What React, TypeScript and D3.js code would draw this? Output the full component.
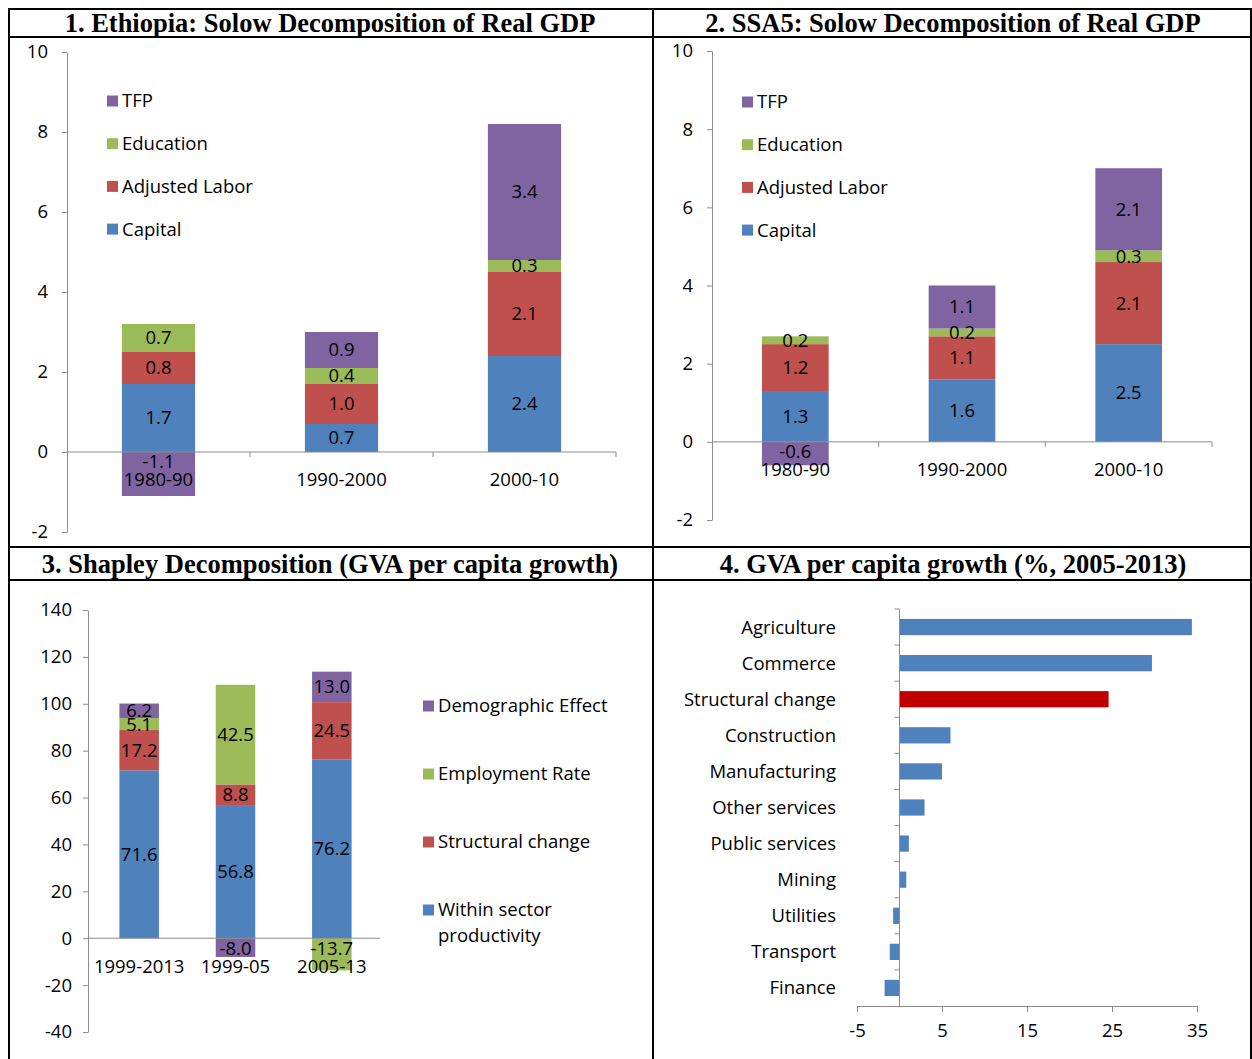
import { useEffect, useRef } from "react";
import * as d3 from "d3";

// Panels 1 and 2: Solow decomposition
const solowPeriods = ["1980-90", "1990-2000", "2000-10"];
const solowSeries = ["Capital", "Adjusted Labor", "Education", "TFP"];
const ethCapital = [1.7, 0.7, 2.4];
const ethLabor = [0.8, 1.0, 2.1];
const ethEducation = [0.7, 0.4, 0.3];
const ethTfp = [-1.1, 0.9, 3.4];
const ssaCapital = [1.3, 1.6, 2.5];
const ssaLabor = [1.2, 1.1, 2.1];
const ssaEducation = [0.2, 0.2, 0.3];
const ssaTfp = [-0.6, 1.1, 2.1];
const solowTicks = [-2, 0, 2, 4, 6, 8, 10];

// Panel 3: Shapley decomposition
const shapleyPeriods = ["1999-2013", "1999-05", "2005-13"];
const shapleySeries = [
  "Within sector productivity",
  "Structural change",
  "Employment Rate",
  "Demographic Effect",
];
const withinSector = [71.6, 56.8, 76.2];
const structuralChange = [17.2, 8.8, 24.5];
const employmentRate = [5.1, 42.5, -13.7];
const demographicEffect = [6.2, -8.0, 13.0];
const shapleyTicks = [-40, -20, 0, 20, 40, 60, 80, 100, 120, 140];

// Panel 4: GVA per capita growth by sector
const sectors = [
  "Agriculture",
  "Commerce",
  "Structural change",
  "Construction",
  "Manufacturing",
  "Other services",
  "Public services",
  "Mining",
  "Utilities",
  "Transport",
  "Finance",
];
const sectorGrowth = [34.4, 29.7, 24.6, 6.0, 5.0, 2.95, 1.1, 0.8, -0.75, -1.15, -1.75];
const growthTicks = [-5, 5, 15, 25, 35];

const COLORS = ["#4F81BD", "#C0504D", "#9BBB59", "#8064A2"];
const HIGHLIGHT = "#C00000";
const AXIS = "#8C8C8C";
const FONT = "'Open Sans', sans-serif";
const FS = 18.5;
const TITLE_FONT = "'Liberation Serif', 'Times New Roman', serif";

type Sel = d3.Selection<SVGGElement, unknown, null, undefined>;

interface StackOpts {
  categories: string[];
  keys: string[];
  columns: number[][]; // one array per series
  xRange: [number, number];
  padding: number;
  yDomain: [number, number];
  yRange: [number, number];
  yTicks: number[];
  axisX: number;
  axisEnd: number;
  tickPad: number;
  catTicks: boolean;
  catLabelDy: number;
  legendX: number;
  legendY: number;
  legendStep: number;
}

function drawStack(g: Sel, o: StackOpts) {
  const rows = o.categories.map((c, i) => {
    const r: Record<string, number | string> = { cat: c };
    o.keys.forEach((k, j) => (r[k] = o.columns[j][i]));
    return r;
  });
  const stacked = d3
    .stack<Record<string, number | string>>()
    .keys(o.keys)
    .value((d, k) => d[k] as number)
    .offset(d3.stackOffsetDiverging)(rows);

  const x = d3
    .scaleBand()
    .domain(o.categories)
    .range(o.xRange)
    .paddingInner(o.padding)
    .paddingOuter(o.padding / 2);
  const y = d3.scaleLinear().domain(o.yDomain).range(o.yRange);

  // bars
  stacked.forEach((s, j) => {
    g.append("g")
      .selectAll("rect")
      .data(s)
      .join("rect")
      .attr("x", (d) => x(d.data.cat as string)!)
      .attr("width", x.bandwidth())
      .attr("y", (d) => y(Math.max(d[0], d[1])))
      .attr("height", (d) => Math.abs(y(d[0]) - y(d[1])))
      .attr("fill", COLORS[j]);
  });

  // value axis
  const yAxis = g
    .append("g")
    .attr("transform", `translate(${o.axisX},0)`)
    .call(
      d3
        .axisLeft(y)
        .tickValues(o.yTicks)
        .tickFormat((d) => String(d))
        .tickSize(5)
        .tickPadding(o.tickPad)
        .tickSizeOuter(0),
    );
  yAxis.select(".domain").attr("stroke", AXIS);
  yAxis.selectAll(".tick line").attr("stroke", AXIS);
  yAxis
    .selectAll(".tick text")
    .attr("font-family", FONT)
    .attr("font-size", FS)
    .attr("fill", "#000");

  // category axis at zero
  const y0 = y(0);
  g.append("line")
    .attr("x1", o.axisX)
    .attr("x2", o.axisEnd)
    .attr("y1", y0)
    .attr("y2", y0)
    .attr("stroke", AXIS);
  if (o.catTicks) {
    const step = x.step();
    o.categories.forEach((_, i) => {
      const tx = o.xRange[0] + step * (i + 1);
      g.append("line")
        .attr("x1", tx)
        .attr("x2", tx)
        .attr("y1", y0)
        .attr("y2", y0 + 5)
        .attr("stroke", AXIS);
    });
  }

  // value labels
  stacked.forEach((s) => {
    s.forEach((d) => {
      const v = d.data[s.key] as number;
      const cx = x(d.data.cat as string)! + x.bandwidth() / 2;
      const cy = v >= 0 ? (y(d[0]) + y(d[1])) / 2 : y0 + 10;
      g.append("text")
        .attr("x", cx)
        .attr("y", cy)
        .attr("dy", "0.35em")
        .attr("text-anchor", "middle")
        .attr("font-family", FONT)
        .attr("font-size", FS)
        .attr("fill", "#000")
        .text(v.toFixed(1));
    });
  });

  // category labels
  o.categories.forEach((c) => {
    g.append("text")
      .attr("x", x(c)! + x.bandwidth() / 2)
      .attr("y", y0 + o.catLabelDy)
      .attr("dy", "0.35em")
      .attr("text-anchor", "middle")
      .attr("font-family", FONT)
      .attr("font-size", FS)
      .attr("fill", "#000")
      .text(c);
  });

  // legend, top series first
  o.keys
    .map((k, j) => ({ k, color: COLORS[j] }))
    .reverse()
    .forEach((e, i) => {
      const ly = o.legendY + i * o.legendStep;
      g.append("rect")
        .attr("x", o.legendX)
        .attr("y", ly - 5.5)
        .attr("width", 11)
        .attr("height", 11)
        .attr("fill", e.color);
      const words = e.k === "Within sector productivity" ? ["Within sector", "productivity"] : [e.k];
      words.forEach((w, wi) => {
        g.append("text")
          .attr("x", o.legendX + 15)
          .attr("y", ly + wi * 26)
          .attr("dy", "0.35em")
          .attr("font-family", FONT)
          .attr("font-size", FS)
          .attr("fill", "#000")
          .text(w);
      });
    });
}

export default function App() {
  const svgRef = useRef<SVGSVGElement>(null);
  const width = 1252;
  const height = 1059;

  useEffect(() => {
    if (!svgRef.current) return;
    const svg = d3.select(svgRef.current);
    svg.selectAll("*").remove();
    svg.attr("width", width).attr("height", height);

    svg.append("rect").attr("width", width).attr("height", height).attr("fill", "#fff");

    // table frame
    const frame = svg.append("g").attr("stroke", "#000").attr("stroke-width", 2);
    [9, 37, 547, 580].forEach((yy) =>
      frame.append("line").attr("x1", 8).attr("x2", width).attr("y1", yy).attr("y2", yy),
    );
    [9, 653, 1251].forEach((xx) =>
      frame.append("line").attr("x1", xx).attr("x2", xx).attr("y1", 9).attr("y2", height),
    );

    const titles = [
      { t: "1. Ethiopia: Solow Decomposition of Real GDP", x: 330, y: 23 },
      { t: "2. SSA5: Solow Decomposition of Real GDP", x: 953, y: 23 },
      { t: "3. Shapley Decomposition (GVA per capita growth)", x: 330, y: 564 },
      { t: "4. GVA per capita growth (%, 2005-2013)", x: 953, y: 564 },
    ];
    titles.forEach((d) =>
      svg
        .append("text")
        .attr("x", d.x)
        .attr("y", d.y)
        .attr("dy", "0.35em")
        .attr("text-anchor", "middle")
        .attr("font-family", TITLE_FONT)
        .attr("font-weight", "bold")
        .attr("font-size", 26.5)
        .attr("fill", "#000")
        .text(d.t),
    );

    // 1. Ethiopia
    drawStack(svg.append("g"), {
      categories: solowPeriods,
      keys: solowSeries,
      columns: [ethCapital, ethLabor, ethEducation, ethTfp],
      xRange: [67, 616],
      padding: 0.6,
      yDomain: [-2, 10],
      yRange: [532, 52],
      yTicks: solowTicks,
      axisX: 67,
      axisEnd: 616,
      tickPad: 14,
      catTicks: true,
      catLabelDy: 28,
      legendX: 107,
      legendY: 101,
      legendStep: 42.7,
    });

    // 2. SSA5
    drawStack(svg.append("g"), {
      categories: solowPeriods,
      keys: solowSeries,
      columns: [ssaCapital, ssaLabor, ssaEducation, ssaTfp],
      xRange: [712, 1212],
      padding: 0.6,
      yDomain: [-2, 10],
      yRange: [520, 51],
      yTicks: solowTicks,
      axisX: 712,
      axisEnd: 1212,
      tickPad: 14,
      catTicks: true,
      catLabelDy: 28,
      legendX: 742,
      legendY: 102,
      legendStep: 42.7,
    });

    // 3. Shapley
    drawStack(svg.append("g"), {
      categories: shapleyPeriods,
      keys: shapleySeries,
      columns: [withinSector, structuralChange, employmentRate, demographicEffect],
      xRange: [91, 380],
      padding: 0.59,
      yDomain: [-40, 140],
      yRange: [1032, 610],
      yTicks: shapleyTicks,
      axisX: 88,
      axisEnd: 380,
      tickPad: 11,
      catTicks: false,
      catLabelDy: 28,
      legendX: 423,
      legendY: 706,
      legendStep: 68,
    });

    // 4. Sector growth bars
    const g4 = svg.append("g");
    const x4 = d3.scaleLinear().domain([-5, 35]).range([857, 1197]);
    const y4 = d3.scaleBand().domain(sectors).range([609, 1006]).paddingInner(0.55).paddingOuter(0.275);
    g4.selectAll("rect")
      .data(sectors)
      .join("rect")
      .attr("x", (_, i) => x4(Math.min(0, sectorGrowth[i])))
      .attr("width", (_, i) => Math.abs(x4(sectorGrowth[i]) - x4(0)))
      .attr("y", (d) => y4(d)!)
      .attr("height", y4.bandwidth())
      .attr("fill", (d) => (d === "Structural change" ? HIGHLIGHT : COLORS[0]));

    const xAxis4 = g4
      .append("g")
      .attr("transform", `translate(0,1006)`)
      .call(
        d3
          .axisBottom(x4)
          .tickValues(growthTicks)
          .tickFormat((d) => String(d))
          .tickSize(6)
          .tickPadding(12)
          .tickSizeOuter(0),
      );
    xAxis4.select(".domain").attr("stroke", AXIS);
    xAxis4.selectAll(".tick line").attr("stroke", AXIS);
    xAxis4
      .selectAll(".tick text")
      .attr("font-family", FONT)
      .attr("font-size", FS)
      .attr("fill", "#000");

    const x0 = x4(0);
    g4.append("line")
      .attr("x1", x0)
      .attr("x2", x0)
      .attr("y1", 609)
      .attr("y2", 1006)
      .attr("stroke", AXIS);
    sectors.forEach((_, i) => {
      const ty = 609 + y4.step() * i;
      g4.append("line")
        .attr("x1", x0 - 5)
        .attr("x2", x0)
        .attr("y1", ty)
        .attr("y2", ty)
        .attr("stroke", AXIS);
    });
    sectors.forEach((s) => {
      g4.append("text")
        .attr("x", 836)
        .attr("y", y4(s)! + y4.bandwidth() / 2)
        .attr("dy", "0.35em")
        .attr("text-anchor", "end")
        .attr("font-family", FONT)
        .attr("font-size", FS)
        .attr("fill", "#000")
        .text(s);
    });
  }, []);

  return (
    <div style={{ position: "absolute", left: 0, top: 0 }}>
      <svg ref={svgRef} />
    </div>
  );
}
